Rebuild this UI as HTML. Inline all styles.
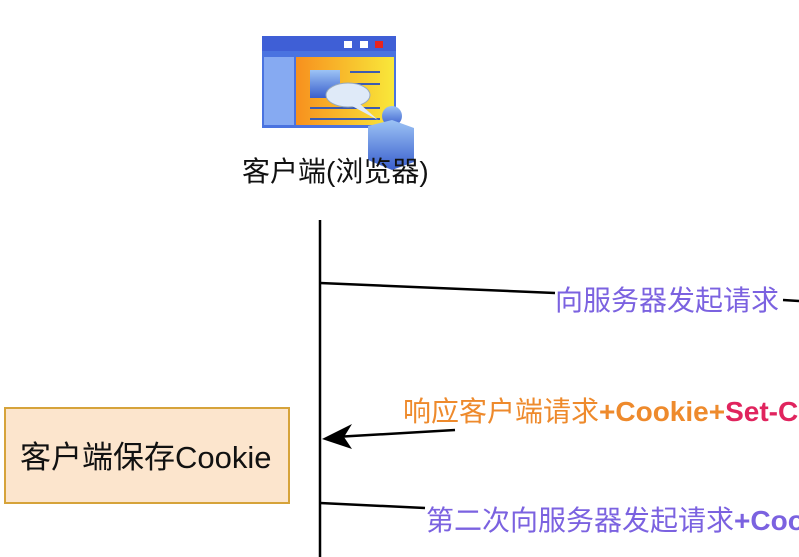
<!DOCTYPE html>
<html><head><meta charset="utf-8"><style>
body{margin:0;width:799px;height:557px;background:#fff;position:relative;overflow:hidden;font-family:"Liberation Sans","Noto Sans CJK SC",sans-serif}
.t{position:absolute;white-space:nowrap;font-size:28px;line-height:32px}
</style></head><body>
<svg width="799" height="557" style="position:absolute;left:0;top:0">
<defs>
<linearGradient id="g1" x1="0" x2="1"><stop offset="0" stop-color="#f7901e"/><stop offset="1" stop-color="#f9e83a"/></linearGradient>
<linearGradient id="g2" x1="0" y1="0" x2="0" y2="1"><stop offset="0" stop-color="#9cc3f5"/><stop offset="1" stop-color="#3a5fcd"/></linearGradient>
</defs>
<rect x="262" y="36" width="134" height="92" fill="#4a73e0"/>
<rect x="262" y="36" width="134" height="15" fill="#3f5fd6"/>
<rect x="344" y="41" width="8" height="7" fill="#fff"/><rect x="360" y="41" width="8" height="7" fill="#fff"/><rect x="375" y="41" width="8" height="7" fill="#e8231f"/>
<rect x="264" y="57" width="30" height="68" fill="#86aaf2"/>
<rect x="296" y="57" width="98" height="68" fill="url(#g1)"/>
<rect x="310" y="70" width="30" height="28" fill="url(#g2)"/>
<g stroke="#3d5bb0" stroke-width="2"><line x1="350" y1="72" x2="380" y2="72"/><line x1="350" y1="84" x2="380" y2="84"/><line x1="310" y1="108" x2="380" y2="108"/><line x1="310" y1="119" x2="380" y2="119"/></g>
<ellipse cx="348" cy="95" rx="22" ry="12" fill="#dfeaf8" stroke="#9ab" />
<path d="M360 104 L378 120 L352 106Z" fill="#dfeaf8"/>
<circle cx="392" cy="116" r="10" fill="url(#g2)"/>
<path d="M368 126 L392 120 L414 128 L414 162 L392 170 L368 160Z" fill="url(#g2)"/>
<g stroke="#000" stroke-width="2.5" fill="none">
<line x1="320" y1="220" x2="320" y2="557"/>
<polyline points="320,283 555,293"/>
<line x1="783" y1="300" x2="799" y2="301"/>
<polyline points="455,430 335,437"/>
<polyline points="320,503 425,508"/>
</g>
<path d="M322,439 L352,424 L344,437 L352,449Z" fill="#000"/>
<rect x="5" y="408" width="284" height="95" fill="#fce5cd" stroke="#d6a33a" stroke-width="2"/>
</svg>
<div class="t" style="left:242px;top:156px;color:#111">客户端(浏览器)</div>
<div class="t" style="left:20px;top:440px;font-size:31px;line-height:36px;color:#111">客户端保存Cookie</div>
<div class="t" style="left:555px;top:285px;color:#7b62e0">向服务器发起请求</div>
<div class="t" style="left:403px;top:396px;color:#ee8a2c">响应客户端请求<b>+Cookie+</b><b style="color:#e0245e">Set-C</b></div>
<div class="t" style="left:426px;top:505px;color:#7b62e0">第二次向服务器发起请求<b>+Coo</b></div>
</body></html>
